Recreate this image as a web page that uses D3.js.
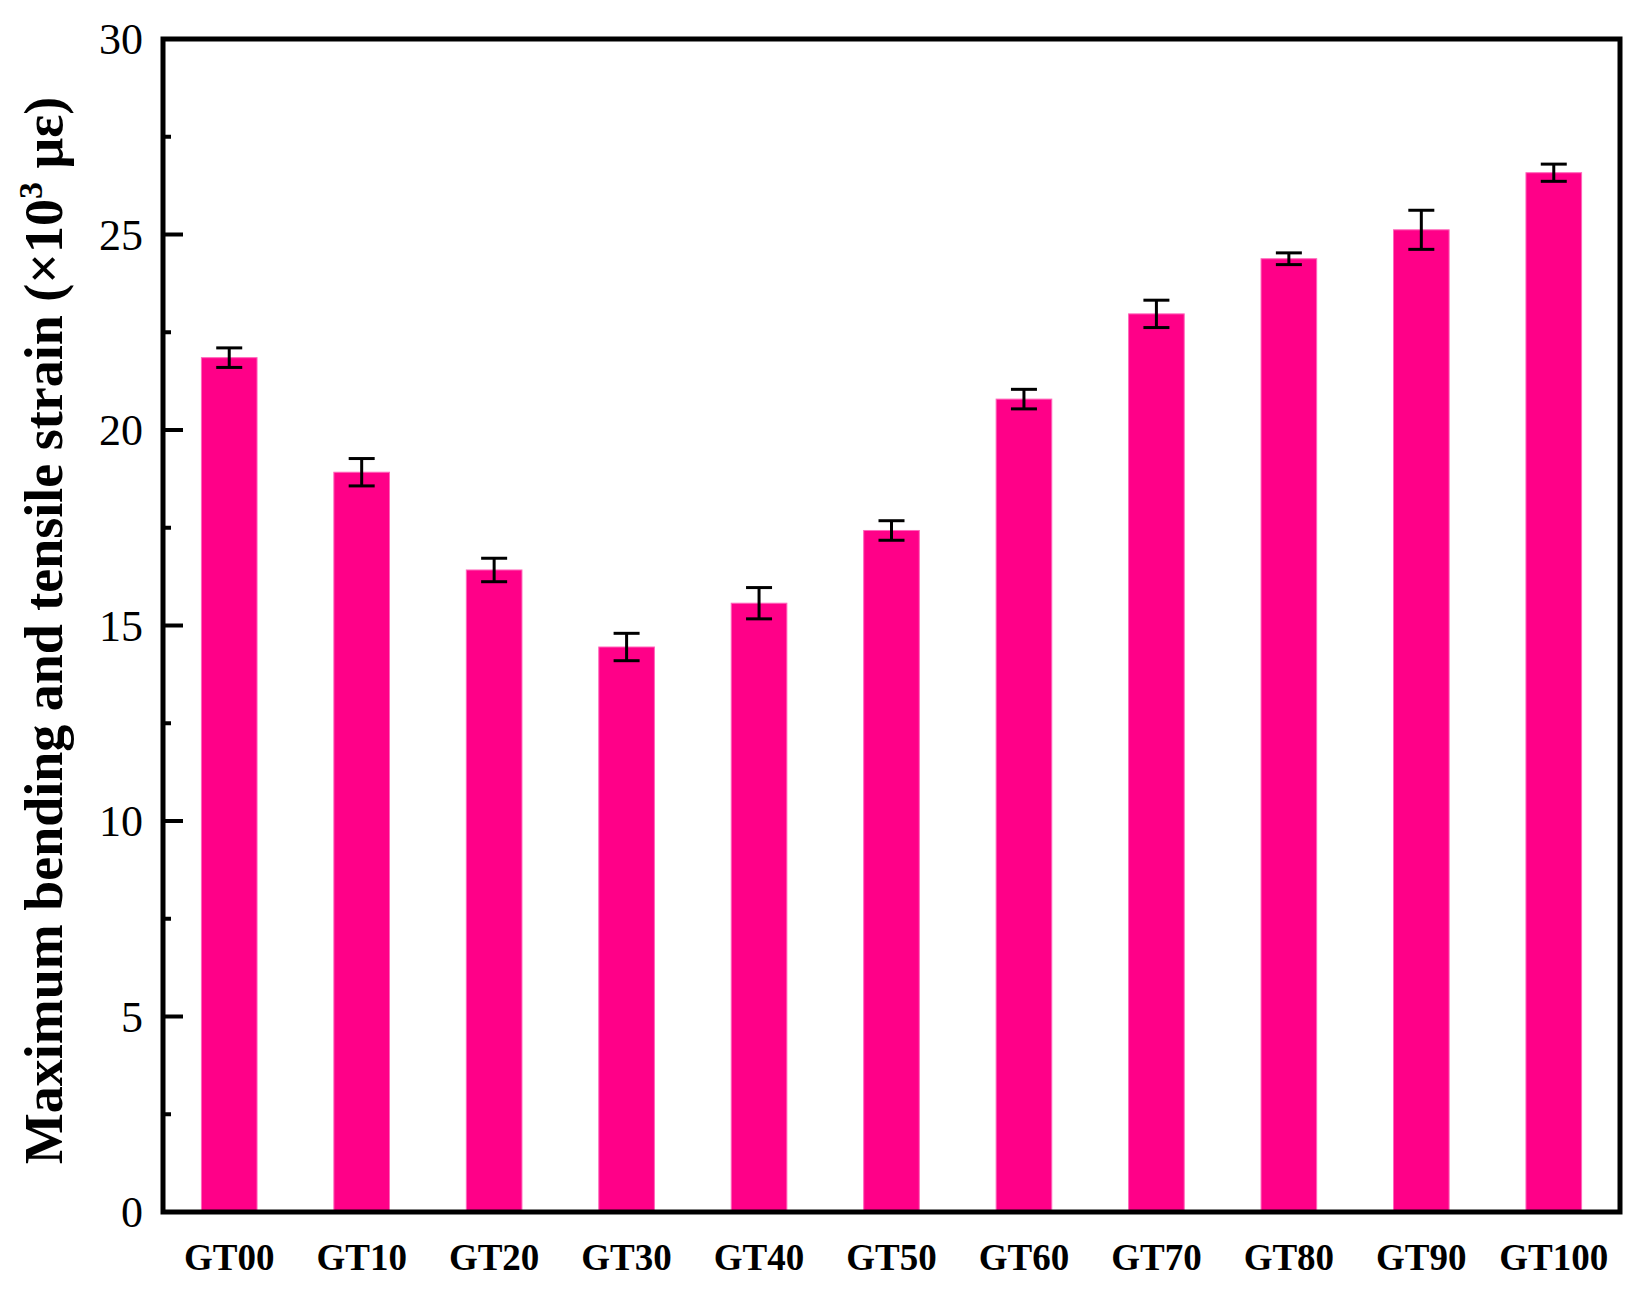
<!DOCTYPE html>
<html><head><meta charset="utf-8">
<script src="https://cdn.jsdelivr.net/npm/d3@7"></script>
<style>body{margin:0;background:#fff}</style>
</head><body><div id="chart"></div>
<script>
const categories = ['GT00','GT10','GT20','GT30','GT40','GT50','GT60','GT70','GT80','GT90','GT100'];
const values = [21.85, 18.92, 16.42, 14.45, 15.57, 17.43, 20.79, 22.97, 24.38, 25.12, 26.58];
const errors = [0.25, 0.35, 0.3, 0.35, 0.4, 0.25, 0.25, 0.35, 0.15, 0.5, 0.22];
const yTicks = [0, 5, 10, 15, 20, 25, 30];

const W = 1641, H = 1292;
const m = {left: 163, right: 21, top: 39, bottom: 80};
const svg = d3.select('#chart').append('svg').attr('width', W).attr('height', H);
const x = d3.scaleBand().domain(categories).range([m.left, W - m.right]).paddingInner(0.58).paddingOuter(0.29);
const y = d3.scaleLinear().domain([0, 30]).range([H - m.bottom, m.top]);
const font = '"Liberation Serif","Times New Roman",serif';

svg.selectAll('rect.bar').data(values).join('rect').attr('class', 'bar')
  .attr('x', (d, i) => x(categories[i])).attr('width', x.bandwidth())
  .attr('y', d => y(d)).attr('height', d => y(0) - y(d))
  .attr('fill', '#ff0088').attr('stroke', '#ff66bb').attr('stroke-width', 1);

const eb = svg.append('g').attr('stroke', '#000').attr('stroke-width', 3);
values.forEach((v, i) => {
  const cx = x(categories[i]) + x.bandwidth() / 2;
  eb.append('line').attr('x1', cx).attr('x2', cx).attr('y1', y(v - errors[i])).attr('y2', y(v + errors[i]));
  [v - errors[i], v + errors[i]].forEach(e =>
    eb.append('line').attr('x1', cx - 13).attr('x2', cx + 13).attr('y1', y(e)).attr('y2', y(e)));
});

// frame
svg.append('rect').attr('x', m.left).attr('y', m.top).attr('width', W - m.right - m.left).attr('height', H - m.bottom - m.top)
  .attr('fill', 'none').attr('stroke', '#000').attr('stroke-width', 5);

// y ticks inward
const ya = svg.append('g').attr('transform', `translate(${m.left},0)`);
d3.range(0, 30.01, 2.5).forEach(t => {
  const major = t % 5 === 0;
  ya.append('line').attr('x1', 0).attr('x2', major ? 20 : 8).attr('y1', y(t)).attr('y2', y(t))
    .attr('stroke', '#000').attr('stroke-width', 4);
});
ya.selectAll('text').data(yTicks).join('text')
  .attr('x', -20).attr('y', d => y(d)).attr('dy', '0.35em').attr('text-anchor', 'end')
  .attr('font-family', font).attr('font-size', 44).text(d => d);

svg.append('g').selectAll('text').data(categories).join('text')
  .attr('x', d => x(d) + x.bandwidth() / 2).attr('y', H - m.bottom + 58).attr('text-anchor', 'middle')
  .attr('font-family', font).attr('font-weight', 'bold').attr('font-size', 37).text(d => d);

const t = svg.append('text').attr('transform', `translate(62,${(m.top + H - m.bottom) / 2 + 5}) rotate(-90)`)
  .attr('text-anchor', 'middle').attr('font-family', font).attr('font-weight', 'bold').attr('font-size', 54);
t.append('tspan').text('Maximum bending and tensile strain (×10');
t.append('tspan').attr('dy', -20).attr('font-size', 34).text('3');
t.append('tspan').attr('dy', 20).text(' με)');
</script></body></html>
